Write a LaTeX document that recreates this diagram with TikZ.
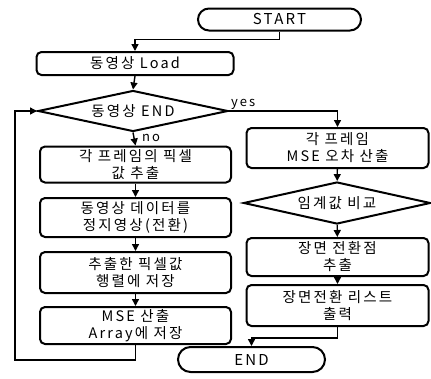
\documentclass[tikz,border=0pt]{standalone}
\usepackage{fontspec}
\setmainfont{Noto Sans CJK KR}[LetterSpace=15]
\usetikzlibrary{shapes.geometric,shapes.misc,arrows.meta,positioning}

\tikzset{
  procbox/.style={draw, line width=2pt, rounded corners=5pt, align=center,
    inner sep=1pt, minimum width=191pt, font=\fontsize{14.5}{17}\selectfont},
  termbox/.style={draw, line width=2pt, rounded rectangle, inner sep=1pt,
    font=\fontsize{15}{17}\selectfont},
  testbox/.style={draw, line width=2pt, diamond, aspect=4.5, inner sep=0pt,
    font=\fontsize{14.5}{17}\selectfont},
  flow/.style={line width=1.4pt, -{Triangle[length=7pt,width=7pt]}},
  tag/.style={font=\fontsize{13}{14}\selectfont, inner sep=1pt}
}

\begin{document}
\begin{tikzpicture}[x=1pt, y=-1pt]
  \useasboundingbox (0,0) rectangle (431,378);

  % left column
  \node[termbox, minimum width=165pt, minimum height=22pt] (start) at (279.5,19.5) {START};
  \node[procbox, minimum width=197pt, minimum height=23pt] (load) at (135,63.5) {동영상 Load};
  \node[testbox, minimum width=190pt, minimum height=41pt] (endtest) at (133,111) {동영상 END};
  \node[procbox, minimum height=36pt] (pixel) at (135.5,164.5) {각 프레임의 픽셀\\값 추출};
  \node[procbox, minimum height=39pt] (still) at (135.5,217.5) {동영상 데이터를\\정지영상(전환)};
  \node[procbox, minimum height=41pt] (matrix) at (135.5,272.5) {추출한 픽셀값\\행렬에 저장};
  \node[procbox, minimum height=37pt] (mse) at (135.5,325.5) {MSE 산출\\Array에 저장};

  % right column
  \node[procbox, minimum width=182pt, minimum height=40pt] (error) at (337.5,148) {각 프레임\\MSE 오차 산출};
  \node[testbox, minimum width=187pt, minimum height=42pt] (thresh) at (337,203) {임계값 비교};
  \node[procbox, minimum width=182pt, minimum height=38pt] (cut) at (337.5,257) {장면 전환점\\추출};
  \node[procbox, minimum width=182pt, minimum height=41pt] (list) at (337.5,305.5) {장면전환 리스트\\출력};
  \node[termbox, minimum width=149pt, minimum height=25pt] (stop) at (251.5,359.5) {END};

  \coordinate (loopcorner) at (15,360);

  % connectors
  \draw[flow] (start.south) -- ++(0,8) -| (load.north);
  \draw[flow] (load.south) -- (endtest.north);
  \draw[flow] (endtest.south) -- (pixel.north);
  \node[tag, anchor=north west] (notag) at ([xshift=8pt,yshift=-1pt]endtest.south) {no};
  \draw[flow] (pixel) -- (still);
  \draw[flow] (still) -- (matrix);
  \draw[flow] (matrix) -- (mse);
  \draw[flow] (mse.south) |- (loopcorner) |- (endtest.west);
  \draw[flow] (endtest.east) -| (error.north);
  \node[tag, anchor=south west] (yestag) at ([xshift=1pt]endtest.east) {yes};
  \draw[flow] (error) -- (thresh);
  \draw[flow] (thresh) -- (cut);
  \draw[flow] (cut) -- (list);
  \draw[flow] (list.south) -- ++(0,11) -| (stop.north);
\end{tikzpicture}
\end{document}
